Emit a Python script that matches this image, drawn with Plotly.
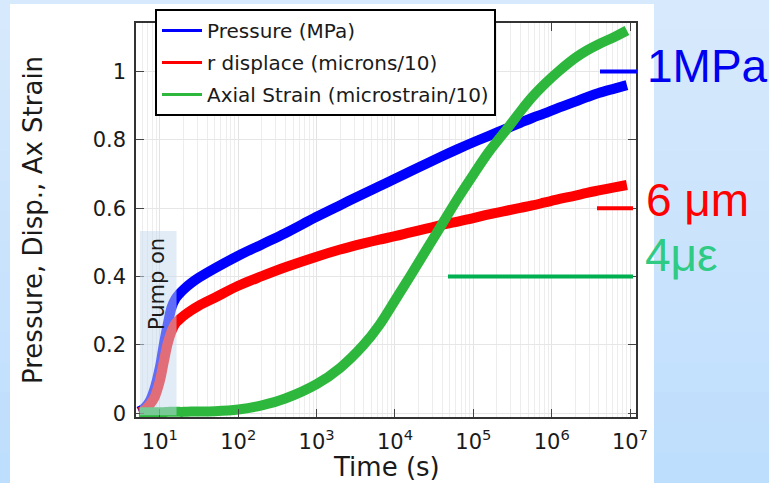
import plotly.graph_objects as go

# ---- data ----
time_s = [5.4, 6.3, 7.4, 8.5, 10, 11.2, 12.6, 14.1, 15.8, 17.8, 20, 25.1, 31.6, 50.1,
          100, 200, 398, 1000, 2000, 3980, 6310, 1.0e4, 1.58e4, 2.51e4, 3.98e4, 6.31e4,
          1.0e5, 1.58e5, 2.82e5, 3.98e5, 5.62e5, 7.94e5, 1.26e6, 2.0e6, 2.82e6, 3.98e6,
          6.31e6, 9.12e6]
pressure = [0.005, 0.015, 0.035, 0.07, 0.135, 0.20, 0.26, 0.31, 0.335, 0.35, 0.362, 0.381,
            0.397, 0.424, 0.461, 0.494, 0.527, 0.575, 0.609, 0.642, 0.664, 0.686, 0.708,
            0.730, 0.752, 0.773, 0.793, 0.812, 0.836, 0.850, 0.864, 0.877, 0.895, 0.912,
            0.925, 0.937, 0.950, 0.960]
r_disp = [0.003, 0.008, 0.025, 0.045, 0.095, 0.15, 0.205, 0.24, 0.263, 0.275, 0.285, 0.301,
          0.315, 0.338, 0.373, 0.401, 0.427, 0.458, 0.479, 0.497, 0.508, 0.518, 0.529,
          0.540, 0.551, 0.561, 0.571, 0.582, 0.594, 0.601, 0.608, 0.616, 0.627, 0.637,
          0.645, 0.652, 0.661, 0.668]
ax_strain = [0.003, 0.003, 0.003, 0.003, 0.003, 0.003, 0.004, 0.004, 0.004, 0.004, 0.004,
             0.005, 0.005, 0.006, 0.011, 0.023, 0.043, 0.085, 0.133, 0.200, 0.258, 0.330,
             0.403, 0.478, 0.553, 0.628, 0.698, 0.765, 0.838, 0.883, 0.925, 0.961, 1.003,
             1.040, 1.062, 1.080, 1.101, 1.120]

series_names = ["Pressure (MPa)", "r displace (microns/10)", "Axial Strain (microstrain/10)"]
series_values = [pressure, r_disp, ax_strain]
series_colors = ["#0000ff", "#ff0000", "#2db83d"]

decade_ticks = [10, 100, 1e3, 1e4, 1e5, 1e6, 1e7]
decade_labels = ["10<sup>%d</sup>" % k for k in range(1, 8)]
y_ticks = [0, 0.2, 0.4, 0.6, 0.8, 1]
y_labels = ["0", "0.2", "0.4", "0.6", "0.8", "1"]

pump_window = [5.56, 16.3]      # seconds
ref_levels = [1.0, 0.6, 0.4]    # 1 MPa, 6 um, 4 microstrain
ref_labels = ["1MPa", "6 μm", "4με"]

FONT = "DejaVu Sans"

fig = go.Figure()

# thick curves
for name, vals, col in zip(series_names, series_values, series_colors):
    fig.add_trace(go.Scatter(x=time_s, y=vals, mode="lines", name=name,
                             line=dict(color=col, width=10, shape="spline", smoothing=1.0),
                             showlegend=False, hoverinfo="skip"))
# legend entries (thin lines)
for i, (name, col) in enumerate(zip(series_names, series_colors)):
    fig.add_trace(go.Scatter(x=[None], y=[None], mode="lines", name=name,
                             line=dict(color=col, width=3), showlegend=True,
                             legendgroup="g%d" % i))

shapes = []
# background gradient stripes
n = 16
top = (215, 233, 252)
bot = (190, 222, 253)
y_lo, y_hi = -66 / 394, 417 / 394 + 0.001
for k in range(n):
    f = k / (n - 1)
    c = tuple(int(round(top[j] + (bot[j] - top[j]) * f)) for j in range(3))
    ya = y_hi - (y_hi - y_lo) * k / n
    yb = y_hi - (y_hi - y_lo) * (k + 1) / n
    shapes.append(dict(type="rect", xref="paper", yref="paper", x0=-0.28, x1=1.28,
                       y0=yb - 0.002, y1=ya, line=dict(width=0),
                       fillcolor="rgb(%d,%d,%d)" % c, layer="below"))
# white panel
shapes.append(dict(type="rect", xref="paper", yref="paper",
                   x0=(10 - 136) / 500, x1=(654 - 136) / 500,
                   y0=-0.2, y1=(417 - 4) / 394, line=dict(width=0),
                   fillcolor="white", layer="below"))
# pump-on band (above traces)
shapes.append(dict(type="rect", xref="x", yref="y", x0=pump_window[0], x1=pump_window[1],
                   y0=-0.006, y1=0.533, line=dict(width=0),
                   fillcolor="rgb(195,218,240)", opacity=0.5, layer="above"))
# reference marks
shapes.append(dict(type="line", xref="paper", yref="y", x0=0.928, x1=1.002,
                   y0=ref_levels[0], y1=ref_levels[0], line=dict(color="#0000ff", width=4)))
shapes.append(dict(type="line", xref="paper", yref="y", x0=0.922, x1=0.994,
                   y0=ref_levels[1], y1=ref_levels[1], line=dict(color="#ff0000", width=4)))
shapes.append(dict(type="line", xref="paper", yref="y", x0=0.624, x1=0.994,
                   y0=ref_levels[2], y1=ref_levels[2], line=dict(color="#00b050", width=4)))

annotations = [
    dict(text=ref_labels[0], xref="paper", yref="paper", x=(645 - 136) / 500,
         y=(417 - 66) / 394, xanchor="left", yanchor="middle", showarrow=False,
         font=dict(family="Liberation Sans", size=46, color="#0000f0")),
    dict(text=ref_labels[1], xref="paper", yref="paper", x=(644 - 136) / 500,
         y=(417 - 200) / 394, xanchor="left", yanchor="middle", showarrow=False,
         font=dict(family="Liberation Sans", size=46, color="#ff0000")),
    dict(text=ref_labels[2], xref="paper", yref="paper", x=(643 - 136) / 500,
         y=(417 - 255) / 394, xanchor="left", yanchor="middle", showarrow=False,
         font=dict(family="Liberation Sans", size=46, color="#2fcb84")),
    dict(text="Pump on", xref="paper", yref="y", x=(157 - 136) / 500, y=0.378,
         textangle=-90, xanchor="center", yanchor="middle", showarrow=False,
         font=dict(family=FONT, size=21, color="#1a1a1a")),
    dict(text="Pressure, Disp., Ax Strain", xref="paper", yref="paper",
         x=(33 - 136) / 500, y=0.5, textangle=-90, xanchor="center", yanchor="middle",
         showarrow=False, font=dict(family=FONT, size=26, color="#1a1a1a")),
    dict(text="Time (s)", xref="paper", yref="paper", x=0.5, y=(417 - 467) / 394,
         xanchor="center", yanchor="middle", showarrow=False,
         font=dict(family=FONT, size=26, color="#1a1a1a")),
]

fig.update_layout(
    width=769, height=483,
    margin=dict(l=136, r=133, t=23, b=66, autoexpand=False),
    paper_bgcolor="rgb(204,228,252)",
    plot_bgcolor="white",
    shapes=shapes,
    annotations=annotations,
    font=dict(family=FONT, size=20, color="#1a1a1a"),
    legend=dict(x=0.038, y=1.0355, xanchor="left", yanchor="top",
                bgcolor="white", bordercolor="black", borderwidth=2,
                font=dict(family=FONT, size=20, color="#1a1a1a"),
                tracegroupgap=3, traceorder="grouped", itemwidth=40),
)
fig.update_xaxes(type="log", range=[0.695, 7.076], tickvals=decade_ticks,
                 ticktext=decade_labels, ticks="inside", ticklen=8, tickcolor="#444",
                 showline=True, linecolor="#333", linewidth=1.5, mirror="ticks",
                 showgrid=True, gridcolor="#e3e3e3", gridwidth=1, zeroline=False,
                 tickfont=dict(family=FONT, size=21, color="#1a1a1a"),
                 ticklabelstandoff=5,
                 minor=dict(dtick="D1", showgrid=True, gridcolor="#ededed", ticks=""))
fig.update_yaxes(range=[-0.011, 1.142], tickvals=y_ticks, ticktext=y_labels,
                 ticks="inside", ticklen=8, tickcolor="#444",
                 showline=True, linecolor="#333", linewidth=1.5, mirror="ticks",
                 showgrid=True, gridcolor="#e6e6e6", gridwidth=1, zeroline=False,
                 tickfont=dict(family=FONT, size=21, color="#1a1a1a"),
                 ticklabelstandoff=4)

fig.write_html("out.html")
